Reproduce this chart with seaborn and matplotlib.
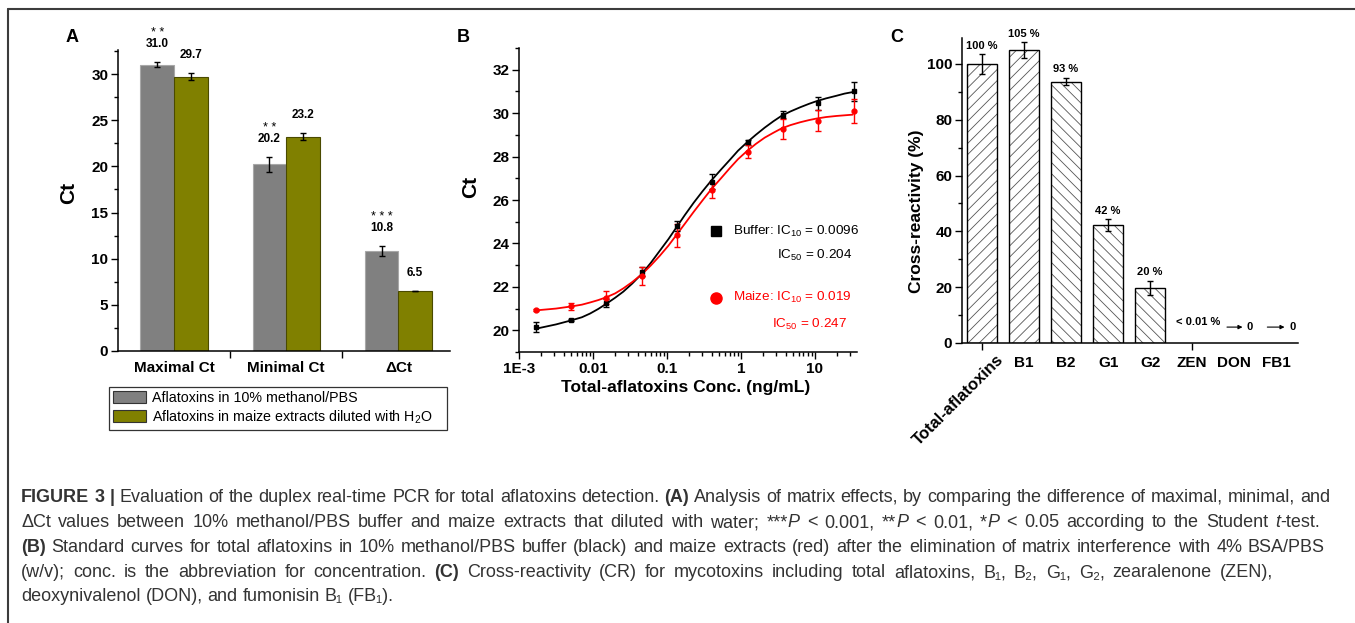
import numpy as np
import pandas as pd
import matplotlib
matplotlib.use("Agg")
import matplotlib.pyplot as plt
import seaborn as sns
from matplotlib.ticker import FixedLocator, FixedFormatter, NullFormatter, LogLocator, MultipleLocator
from matplotlib.patches import Patch, Rectangle
from matplotlib.lines import Line2D

# ---------------- data ----------------
# Panel A
groups_A = ["Maximal Ct", "Minimal Ct", "ΔCt"]
series_A = ["Aflatoxins in 10% methanol/PBS", "Aflatoxins in maize extracts diluted with H$_2$O"]
buffer_ct = [31.0, 20.2, 10.8]
buffer_err = [0.25, 0.8, 0.55]
maize_ct = [29.7, 23.2, 6.5]
maize_err = [0.4, 0.4, 0.05]
stars_A = ["* *", "* *", "* * *"]

# Panel B (points)
conc = [0.00169, 0.00508, 0.0152, 0.0457, 0.137, 0.412, 1.23, 3.70, 11.1, 33.3]
buffer_mean = [20.15, 20.46, 21.25, 22.7, 24.8, 26.85, 28.65, 29.93, 30.45, 31.0]
buffer_sd = [0.23, 0.05, 0.2, 0.2, 0.25, 0.35, 0.1, 0.15, 0.3, 0.42]
maize_mean = [20.92, 21.1, 21.5, 22.5, 24.37, 26.44, 28.23, 29.27, 29.65, 30.1]
maize_sd = [0.05, 0.15, 0.3, 0.42, 0.52, 0.35, 0.3, 0.48, 0.48, 0.57]
# Panel B (fitted curves; x as log10 of concentration)
curve_log10_conc = [-2.76, -2.5, -2.29, -2.15, -2.04, -1.93, -1.82, -1.7, -1.59, -1.47, -1.34,
                    -1.22, -1.1, -0.98, -0.87, -0.76, -0.64, -0.52, -0.40, -0.27, -0.15, -0.04,
                    0.08, 0.2, 0.32, 0.44, 0.55, 0.67, 0.8, 0.92, 1.02, 1.15, 1.29, 1.4, 1.51]
buffer_fit = [20.08, 20.27, 20.46, 20.6, 20.77, 20.98, 21.22, 21.5, 21.78, 22.15, 22.6,
              23.1, 23.65, 24.2, 24.75, 25.3, 25.87, 26.4, 26.9, 27.4, 27.85, 28.27,
              28.65, 29.0, 29.33, 29.63, 29.88, 30.08, 30.27, 30.43, 30.55, 30.68, 30.8, 30.9, 30.97]
maize_fit = [20.92, 21.0, 21.1, 21.18, 21.28, 21.39, 21.52, 21.7, 21.93, 22.22, 22.58,
             22.98, 23.42, 23.9, 24.4, 24.9, 25.45, 25.98, 26.5, 27.0, 27.47, 27.88,
             28.25, 28.58, 28.87, 29.1, 29.3, 29.45, 29.58, 29.68, 29.75, 29.82, 29.87, 29.9, 29.93]
x_tick_vals_B = [1e-3, 1e-2, 1e-1, 1, 10]
x_tick_labels_B = ["1E-3", "0.01", "0.1", "1", "10"]

# Panel C
cr_cats = ["Total-aflatoxins", "B1", "B2", "G1", "G2", "ZEN", "DON", "FB1"]
cr_vals = [100, 105, 93.7, 42.3, 19.8, 0, 0, 0]
cr_err = [3.5, 2.8, 1.4, 2.0, 2.5, 0, 0, 0]
cr_labels = ["100 %", "105 %", "93 %", "42 %", "20 %"]
cr_hatch = ["///", "///", "\\\\\\", "\\\\\\", "\\\\\\", "", "", ""]

# ---------------- style ----------------
sns.set_theme(style="ticks")
plt.rcParams["font.family"] = ["Liberation Sans", "DejaVu Sans"]
plt.rcParams["mathtext.fontset"] = "custom"
plt.rcParams["mathtext.rm"] = "Liberation Sans"
plt.rcParams["mathtext.it"] = "Liberation Sans:italic"
plt.rcParams["mathtext.bf"] = "Liberation Sans:bold"
plt.rcParams["hatch.linewidth"] = 0.6
plt.rcParams["axes.linewidth"] = 1.1
for k in ["axes.edgecolor", "xtick.color", "ytick.color", "text.color", "axes.labelcolor"]:
    plt.rcParams[k] = "black"

GRAY = "#808080"
OLIVE = "#808000"
RED = "#ff0000"
CAP = "#333333"

W, H = 1355, 623
fig = plt.figure(figsize=(W / 100, H / 100), dpi=100)


def ax_rect(l, r, b, t):
    return [l / W, 1 - b / H, (r - l) / W, (b - t) / H]


def bold_ticks(ax):
    for lbl in ax.get_xticklabels() + ax.get_yticklabels():
        lbl.set_fontweight("bold")


# ---------------- Panel A ----------------
axA = fig.add_axes(ax_rect(118, 450, 351, 50))
dfA = pd.DataFrame({
    "group": groups_A * 2,
    "series": [series_A[0]] * 3 + [series_A[1]] * 3,
    "ct": buffer_ct + maize_ct,
})
sns.barplot(data=dfA, x="group", y="ct", hue="series", palette=[GRAY, OLIVE],
            errorbar=None, width=0.6, saturation=1, ax=axA, legend=False, linewidth=0.8)
patches = sorted(axA.patches, key=lambda p: p.get_x())
vals = [v for pair in zip(buffer_ct, maize_ct) for v in pair]
errs = [e for pair in zip(buffer_err, maize_err) for e in pair]
for i, (p, v, e) in enumerate(zip(patches, vals, errs)):
    p.set_edgecolor("#a8a8a8" if i % 2 == 0 else "#4a4a00")
    xc = p.get_x() + p.get_width() / 2
    axA.errorbar(xc, v, yerr=e, fmt="none", ecolor="black", elinewidth=1, capsize=2.5, capthick=1)
    ynum = v + e + 1.95
    axA.text(xc, ynum, f"{v:.1f}", ha="center", va="center", fontsize=8.5,
             fontweight="bold", clip_on=False)
    if i % 2 == 0:
        axA.text(xc, ynum + 1.2, stars_A[i // 2], ha="center", va="center", fontsize=9,
                 clip_on=False)
axA.set_xlim(-0.5, 2.46)
axA.set_ylim(0, 32.6)
axA.yaxis.set_major_locator(FixedLocator([0, 5, 10, 15, 20, 25, 30]))
axA.yaxis.set_minor_locator(MultipleLocator(2.5))
axA.xaxis.set_major_locator(FixedLocator([0, 1, 2]))
axA.set_xticklabels(groups_A)
axA.xaxis.set_minor_locator(FixedLocator([0.5, 1.5]))
axA.tick_params(axis="x", which="major", length=0, pad=7, labelsize=11)
axA.tick_params(axis="x", which="minor", length=5, width=1, direction="out")
axA.tick_params(axis="y", which="major", length=5, width=1, direction="out", labelsize=11, pad=2)
axA.tick_params(axis="y", which="minor", length=3, width=1, direction="out")
axA.set_xlabel("")
axA.set_ylabel("Ct", fontsize=15, fontweight="bold")
axA.yaxis.set_label_coords(-0.12, 0.525)
sns.despine(ax=axA)
bold_ticks(axA)

legA = fig.legend(
    handles=[Patch(facecolor=GRAY, edgecolor="#333333", linewidth=0.8),
             Patch(facecolor=OLIVE, edgecolor="#333333", linewidth=0.8)],
    labels=series_A, loc="upper left",
    bbox_to_anchor=(109 / W, 1 - 430 / H, 338 / W, 43 / H), mode="expand",
    frameon=True, fancybox=False, framealpha=1, edgecolor="#333333",
    fontsize=10.3, handlelength=2.3, handleheight=0.9, labelspacing=0.2,
    borderpad=0.3, handletextpad=0.4, borderaxespad=0)
legA.get_frame().set_linewidth(0.9)

# ---------------- Panel B ----------------
axB = fig.add_axes(ax_rect(519, 857, 352, 48))
axB.set_xscale("log")
curve_conc = np.power(10.0, curve_log10_conc)
sns.lineplot(x=curve_conc, y=buffer_fit, color="black", lw=1.3, ax=axB)
sns.lineplot(x=curve_conc, y=maize_fit, color=RED, lw=1.3, ax=axB)
axB.errorbar(conc, buffer_mean, yerr=buffer_sd, fmt="s", color="black", ms=3.5,
             capsize=2.5, elinewidth=1, capthick=1)
axB.errorbar(conc, maize_mean, yerr=maize_sd, fmt="o", color=RED, ms=3.5,
             capsize=2.5, elinewidth=1, capthick=1)
axB.set_xlim(1e-3, 37)
axB.set_ylim(19, 33)
axB.xaxis.set_major_locator(FixedLocator(x_tick_vals_B))
axB.xaxis.set_major_formatter(FixedFormatter(x_tick_labels_B))
axB.xaxis.set_minor_locator(LogLocator(base=10, subs=np.arange(2, 10), numticks=20))
axB.xaxis.set_minor_formatter(NullFormatter())
axB.yaxis.set_major_locator(FixedLocator([20, 22, 24, 26, 28, 30, 32]))
axB.yaxis.set_minor_locator(MultipleLocator(1))
axB.tick_params(axis="both", which="major", length=5, width=1, direction="out", labelsize=11, pad=2)
axB.tick_params(axis="both", which="minor", length=3, width=1, direction="out")
axB.set_xlabel("Total-aflatoxins Conc. (ng/mL)", fontsize=12.5, fontweight="bold")
axB.xaxis.set_label_coords(0.494, -0.092)
axB.set_ylabel("Ct", fontsize=15, fontweight="bold")
axB.yaxis.set_label_coords(-0.115, 0.543)
sns.despine(ax=axB)
bold_ticks(axB)
axB.plot([0.583], [0.398], marker="s", ms=7, color="black", transform=axB.transAxes, clip_on=False)
axB.plot([0.583], [0.178], marker="o", ms=8, color=RED, transform=axB.transAxes, clip_on=False)
axB.text(0.633, 0.398, "Buffer: IC$_{10}$ = 0.0096", transform=axB.transAxes, ha="left",
         va="center", fontsize=9.7)
axB.text(0.985, 0.316, "IC$_{50}$ = 0.204", transform=axB.transAxes, ha="right",
         va="center", fontsize=9.7)
axB.text(0.633, 0.178, "Maize: IC$_{10}$ = 0.019", transform=axB.transAxes, ha="left",
         va="center", fontsize=9.7, color=RED)
axB.text(0.970, 0.092, "IC$_{50}$ = 0.247", transform=axB.transAxes, ha="right",
         va="center", fontsize=9.7, color=RED)

# ---------------- Panel C ----------------
axC = fig.add_axes(ax_rect(962, 1298, 343, 38))
sns.barplot(x=cr_cats, y=cr_vals, color="white", saturation=1, width=0.71,
            edgecolor="black", linewidth=1.0, errorbar=None, ax=axC)
for i, p in enumerate(list(axC.patches)):
    xc = p.get_x() + p.get_width() / 2
    if cr_vals[i] > 0:
        p.set_hatch(cr_hatch[i])
        p.set_edgecolor("#555555")
        p.set_linewidth(0)
        axC.add_patch(Rectangle((p.get_x(), 0), p.get_width(), p.get_height(), fill=False,
                                edgecolor="black", linewidth=1.0, zorder=p.get_zorder() + 0.1))
        axC.errorbar(xc, cr_vals[i], yerr=cr_err[i], fmt="none", ecolor="black",
                     elinewidth=1, capsize=2.5, capthick=1, zorder=5)
        axC.text(xc, cr_vals[i] + cr_err[i] + 1.3, cr_labels[i], ha="center", va="bottom",
                 fontsize=8, fontweight="bold", clip_on=False)
    else:
        p.set_linewidth(0)
axC.text(5.14, 7.5, "< 0.01 %", ha="center", va="center", fontsize=8, fontweight="bold")
for x0, x1, xt in [(5.83, 6.2, 6.38), (6.79, 7.2, 7.40)]:
    axC.annotate("", xy=(x1, 5.7), xytext=(x0, 5.7),
                 arrowprops=dict(arrowstyle="-|>", lw=0.8, color="black", mutation_scale=6,
                                 shrinkA=0, shrinkB=0),
                 annotation_clip=False)
    axC.text(xt, 5.9, "0", ha="center", va="center", fontsize=8, fontweight="bold",
             clip_on=False)
axC.set_xlim(-0.476, 7.52)
axC.set_ylim(0, 109.3)
axC.xaxis.set_major_locator(FixedLocator(list(range(len(cr_cats)))))
axC.set_xticklabels([""] + cr_cats[1:])
axC.xaxis.remove_overlapping_locs = False
axC.xaxis.set_minor_locator(FixedLocator([0, 5]))
axC.yaxis.set_major_locator(FixedLocator([0, 20, 40, 60, 80, 100]))
axC.yaxis.set_minor_locator(MultipleLocator(10))
axC.tick_params(axis="x", which="major", length=0, pad=9.5, labelsize=11)
axC.tick_params(axis="x", which="minor", length=5, width=1, direction="out")
axC.tick_params(axis="y", which="major", length=5, width=1, direction="out", labelsize=11, pad=2)
axC.tick_params(axis="y", which="minor", length=3, width=1, direction="out")
axC.set_ylabel("Cross-reactivity (%)", fontsize=12.5, fontweight="bold")
axC.yaxis.set_label_coords(-0.113, 0.433)
sns.despine(ax=axC)
bold_ticks(axC)
axC.text(0.33, -0.03, cr_cats[0], transform=axC.get_xaxis_transform(), rotation=45,
         rotation_mode="anchor", ha="right", va="top", fontsize=12, fontweight="bold")

# ---------------- panel letters ----------------
for lx, letter in [(72, "A"), (463, "B"), (897, "C")]:
    fig.text(lx / W, 1 - 37 / H, letter, ha="center", va="center", fontsize=13, fontweight="bold")

# ---------------- outer frame ----------------
fig.add_artist(Line2D([8 / W, 1], [1 - 8.5 / H, 1 - 8.5 / H], color="#3c3c3c", lw=1.5,
                      transform=fig.transFigure))
fig.add_artist(Line2D([8 / W, 8 / W], [1 - 8.5 / H, 0], color="#3c3c3c", lw=1.5,
                      transform=fig.transFigure))

# ---------------- caption ----------------
renderer = fig.canvas.get_renderer()
B = {"fontweight": "bold"}
N = {"fontweight": "normal"}
I = {"fontweight": "normal", "fontstyle": "italic"}
caption_lines = [
    [("FIGURE 3 |", B), (" Evaluation of the duplex real-time PCR for total aflatoxins detection. ", N),
     ("(A)", B), (" Analysis of matrix effects, by comparing the difference of maximal, minimal, and", N)],
    [("ΔCt values between 10% methanol/PBS buffer and maize extracts that diluted with water; ***", N),
     ("P", I), (" < 0.001, **", N), ("P", I), (" < 0.01, *", N), ("P", I),
     (" < 0.05 according to the Student ", N), ("t", I), ("-test.", N)],
    [("(B)", B), (" Standard curves for total aflatoxins in 10% methanol/PBS buffer (black) and maize extracts (red) after the elimination of matrix interference with 4% BSA/PBS", N)],
    [("(w/v); conc. is the abbreviation for concentration. ", N), ("(C)", B),
     (" Cross-reactivity (CR) for mycotoxins including total aflatoxins, B₁, B₂, G₁, G₂, zearalenone (ZEN),", N)],
    [("deoxynivalenol (DON), and fumonisin B₁ (FB₁).", N)],
]
baselines = [502, 527, 552, 577, 601]
line_right = [1330, 1320, 1325, 1273, None]
X0 = 21.0


def tokenize(segs):
    items = []
    pending = False
    for text, props in segs:
        parts = text.split(" ")
        for j, ptxt in enumerate(parts):
            if j > 0:
                pending = True
            if ptxt:
                items.append((ptxt, props, pending))
                pending = False
    return items


def word_width(word, props, size):
    t = fig.text(0, 0, word, fontsize=size, **props)
    w = t.get_window_extent(renderer).width
    t.remove()
    return w


def space_width(size):
    return word_width("n n", N, size) - word_width("nn", N, size)


# size the caption font so that the first line spans the same width as in the reference
BASE = 10.0
items0 = tokenize(caption_lines[0])
nat = sum(word_width(w, p, BASE) for w, p, _ in items0) + space_width(BASE) * sum(
    1 for _, _, s in items0[1:] if s)
CAP_SIZE = BASE * (line_right[0] - X0) / nat
SPACE = space_width(CAP_SIZE)

for segs, yb, xr in zip(caption_lines, baselines, line_right):
    items = tokenize(segs)
    widths = [word_width(w, p, CAP_SIZE) for w, p, _ in items]
    n_sp = sum(1 for _, _, s in items[1:] if s)
    gap = SPACE
    if xr is not None and n_sp > 0:
        gap = (xr - X0 - sum(widths)) / n_sp
    x = X0
    for k, ((word, props, sp), w) in enumerate(zip(items, widths)):
        if sp and k > 0:
            x += gap
        fig.text(x / W, 1 - yb / H, word, fontsize=CAP_SIZE, ha="left", va="baseline",
                 color=CAP, **props)
        x += w

fig.savefig("out.png", dpi=100)
